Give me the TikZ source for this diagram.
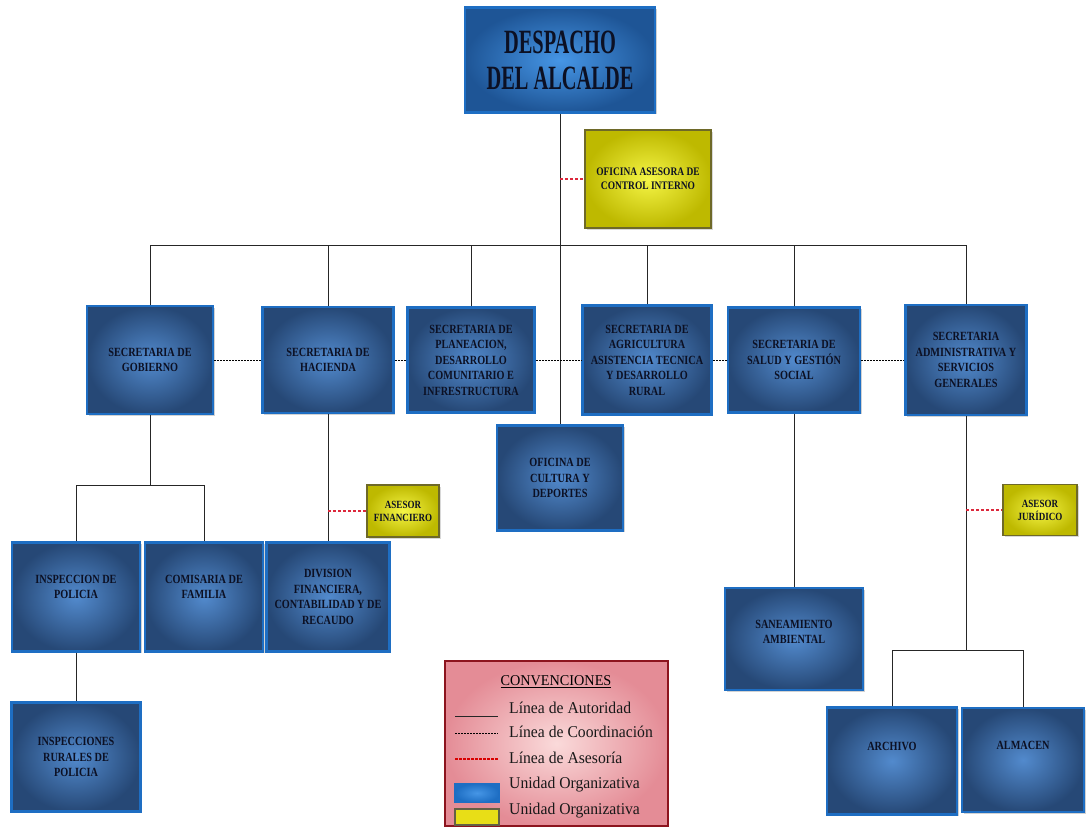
\documentclass[tikz,border=0pt]{standalone}
\usepackage{fontspec}
\setmainfont{Liberation Serif}
\newfontfamily\titlef[FakeStretch=0.6]{Liberation Serif}
\newfontfamily\boxf[FakeStretch=0.82]{Liberation Serif}
\newfontfamily\legf[FakeStretch=0.95]{Liberation Serif}
\usetikzlibrary{shadows}
\definecolor{bframe}{RGB}{30,110,195}
\definecolor{bout}{RGB}{38,72,118}
\definecolor{bin}{RGB}{82,138,205}
\definecolor{tin}{RGB}{70,150,230}
\definecolor{tout}{RGB}{30,85,150}
\definecolor{yin}{RGB}{245,245,70}
\definecolor{yout}{RGB}{190,185,0}
\definecolor{yframe}{RGB}{110,105,40}
\definecolor{txt}{RGB}{12,16,35}
\definecolor{legframe}{RGB}{140,20,30}
\definecolor{legin}{RGB}{250,218,218}
\definecolor{legout}{RGB}{228,140,150}
\definecolor{adv}{RGB}{220,40,60}
\tikzset{
  unit/.style={draw=bframe, line width=2.5pt, inner color=bin, outer color=bout,
    text=txt, align=center, inner sep=3pt,
    font=\boxf\bfseries\fontsize{12.5}{15.5}\selectfont,
    drop shadow={opacity=0.35, shadow xshift=1.5pt, shadow yshift=-1.5pt}},
  topunit/.style={unit, inner color=tin, outer color=tout,
    font=\titlef\bfseries\fontsize{34}{36}\selectfont},
  advbox/.style={draw=yframe, line width=1.5pt, inner color=yin, outer color=yout,
    text=txt, align=center, inner sep=2pt,
    font=\boxf\bfseries\fontsize{11}{13}\selectfont,
    drop shadow={opacity=0.3, shadow xshift=1.5pt, shadow yshift=-1.5pt}},
  auth/.style={draw=black!85, line width=0.8pt},
  coordl/.style={draw=black, line width=0.8pt, dash pattern=on 2pt off 1pt},
  advl/.style={draw=adv, line width=1.2pt, dash pattern=on 3pt off 2pt},
  legbox/.style={draw=legframe, line width=2pt, inner color=legin, outer color=legout},
  legtext/.style={anchor=west, inner sep=0pt, text=black!90,
    font=\legf\fontsize{16.5}{18}\selectfont},
}
\begin{document}
\begin{tikzpicture}[x=1pt,y=-1pt]
\useasboundingbox (0,0) rectangle (1086,827);
\fill[white] (0,0) rectangle (1086,827);

% top
\node[topunit, minimum width=190, minimum height=105] (desp) at (560,60) {DESPACHO\\DEL ALCALDE};
\node[advbox, minimum width=126, minimum height=98, font=\boxf\bfseries\fontsize{11.5}{14}\selectfont] (oaci) at (648,179) {OFICINA ASESORA DE\\CONTROL INTERNO};

% secretarias
\node[unit, minimum width=126, minimum height=108] (gob) at (150,360) {SECRETARIA DE\\GOBIERNO};
\node[unit, minimum width=131, minimum height=106] (hac) at (328,360) {SECRETARIA DE\\HACIENDA};
\node[unit, minimum width=127, minimum height=105] (pla) at (471,360) {SECRETARIA DE\\PLANEACION,\\DESARROLLO\\COMUNITARIO E\\INFRESTRUCTURA};
\node[unit, minimum width=129, minimum height=109] (agr) at (647,360) {SECRETARIA DE\\AGRICULTURA\\ASISTENCIA TECNICA\\Y DESARROLLO\\RURAL};
\node[unit, minimum width=132, minimum height=105] (sal) at (794,360) {SECRETARIA DE\\SALUD Y GESTIÓN\\SOCIAL};
\node[unit, minimum width=121, minimum height=110] (adm) at (966,360) {SECRETARIA\\ADMINISTRATIVA Y\\SERVICIOS\\GENERALES};
\node[unit, minimum width=126, minimum height=105] (cul) at (560,478) {OFICINA DE\\CULTURA Y\\DEPORTES};

% lower level
\node[unit, minimum width=128, minimum height=109, text depth=20pt] (insp) at (76,597) {INSPECCION DE\\POLICIA};
\node[unit, minimum width=118, minimum height=109, text depth=20pt] (com) at (204,597) {COMISARIA DE\\FAMILIA};
\node[unit, minimum width=123, minimum height=109] (div) at (328,597) {DIVISION\\FINANCIERA,\\CONTABILIDAD Y DE\\RECAUDO};
\node[advbox, minimum width=72, minimum height=52] (asf) at (403,511) {ASESOR\\FINANCIERO};
\node[unit, minimum width=129, minimum height=109] (rur) at (76,757) {INSPECCIONES\\RURALES DE\\POLICIA};
\node[unit, minimum width=138, minimum height=102, text depth=14pt] (san) at (794,639) {SANEAMIENTO\\AMBIENTAL};
\node[advbox, minimum width=74, minimum height=51] (asj) at (1040,510) {ASESOR\\JURÍDICO};
\node[unit, minimum width=130, minimum height=107, text depth=30pt] (arc) at (892,761) {ARCHIVO};
\node[unit, minimum width=122, minimum height=104, text depth=30pt] (alm) at (1023,760) {ALMACEN};

% authority lines
\coordinate (busy) at (0,245);
\coordinate (gj) at (0,485);
\coordinate (aj) at (0,650);
\draw[auth] (desp.south) -- (cul.north);
\draw[auth] (gob.north |- busy) -- (adm.north |- busy);
\foreach \n in {gob,hac,pla,agr,sal,adm} \draw[auth] (\n.north) -- (\n.north |- busy);
\draw[auth] (gob.south) -- (gob.south |- gj);
\draw[auth] (insp.north) |- (com.north |- gj) -- (com.north);
\draw[auth] (hac.south) -- (div.north);
\draw[auth] (insp.south) -- (rur.north);
\draw[auth] (sal.south) -- (san.north);
\draw[auth] (adm.south) -- (adm.south |- aj);
\draw[auth] (arc.north) |- (alm.north |- aj) -- (alm.north);

% coordination lines
\draw[coordl] (gob.east) -- (hac.west);
\draw[coordl] (hac.east) -- (pla.west);
\draw[coordl] (pla.east) -- (agr.west);
\draw[coordl] (agr.east) -- (sal.west);
\draw[coordl] (sal.east) -- (adm.west);

% advisory lines
\draw[advl] (oaci.west -| desp.south) -- (oaci.west);
\draw[advl] (asf.west -| hac.south) -- (asf.west);
\draw[advl] (asj.west -| adm.south) -- (asj.west);

% legend
\node[legbox, minimum width=223, minimum height=165] (leg) at (556.5,743.5) {};
\node[legtext, anchor=center, text=black, font=\legf\fontsize{15}{18}\selectfont] (ltit) at (556,682) {\underline{CONVENCIONES}};
\node[legtext] (lt1) at (509,708) {Línea de Autoridad};
\node[legtext] (lt2) at (509,732) {Línea de Coordinación};
\node[legtext] (lt3) at (509,758) {Línea de Asesoría};
\node[legtext] (lt4) at (509,785) {Unidad Organizativa};
\node[legtext] (lt5) at (509,811) {Unidad Organizativa};
\coordinate (la1) at (455,716); \coordinate (lb1) at (498,716);
\coordinate (la2) at (455,733); \coordinate (lb2) at (498,733);
\coordinate (la3) at (455,759); \coordinate (lb3) at (498,759);
\draw[auth, line width=1pt] (la1) -- (lb1);
\draw[coordl] (la2) -- (lb2);
\draw[draw=red!85!black, line width=1.2pt, dash pattern=on 2.5pt off 1.5pt] (la3) -- (lb3);
\node[draw=bframe, line width=1.5pt, inner color=tin, outer color=bframe, minimum width=44, minimum height=19] (sw1) at (477,793) {};
\node[draw=black!70!yellow, line width=1.2pt, fill=yellow!90!black, minimum width=44, minimum height=16] (sw2) at (477,817) {};
\end{tikzpicture}
\end{document}
